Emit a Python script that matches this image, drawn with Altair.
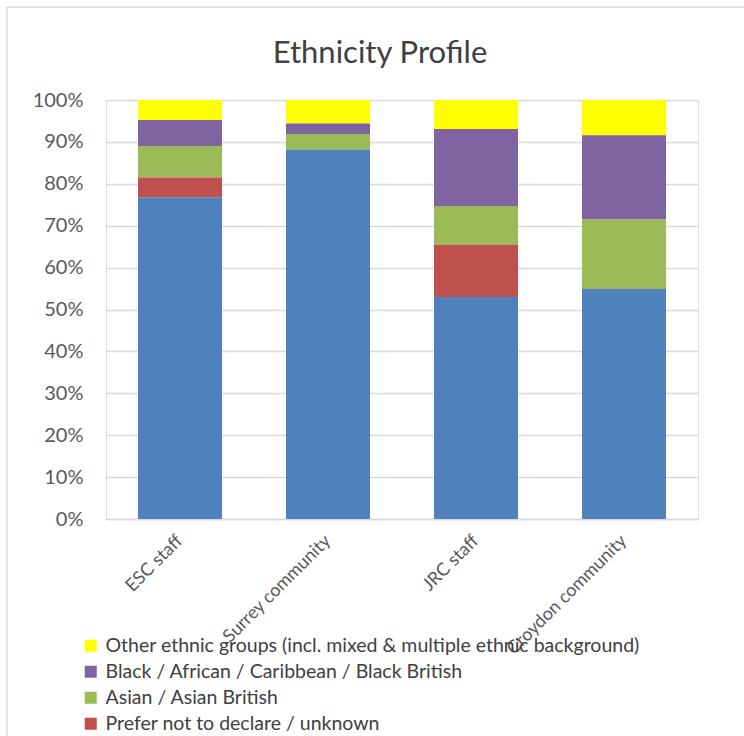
import altair as alt
import pandas as pd

categories = ["ESC staff", "Surrey community", "JRC staff", "Croydon community"]
groups = [
    "Other ethnic groups (incl. mixed & multiple ethnic background)",
    "Black / African / Caribbean / Black British",
    "Asian / Asian British",
    "Prefer not to declare / unknown",
    "White",
]
colors = ["#FFFF00", "#8064A2", "#9BBB59", "#C0504D", "#4F81BD"]
stack_rank = [4, 3, 2, 1, 0]

other = [4.8, 5.6, 6.9, 8.4]
black = [6.2, 2.5, 18.4, 20.1]
asian = [7.5, 3.7, 9.2, 16.6]
prefer = [4.7, 0.0, 12.5, 0.0]
white = [76.8, 88.2, 53.0, 54.9]

series = [other, black, asian, prefer, white]
rows = []
for g, vals, r in zip(groups, series, stack_rank):
    for c, v in zip(categories, vals):
        rows.append({"category": c, "group": g, "value": v, "rank": r})
df = pd.DataFrame(rows)

FONT = "Lato"

bars = alt.Chart(df).mark_bar().encode(
    x=alt.X(
        "category:N",
        sort=categories,
        title=None,
        scale=alt.Scale(paddingInner=0.432, paddingOuter=0.216),
        axis=alt.Axis(
            labelAngle=315,
            labelAlign="right",
            labelBaseline="middle",
            labelPadding=19,
            ticks=False,
            domain=True,
            domainColor="#D9D9D9",
            domainWidth=1.3,
            labelFont=FONT,
            labelFontSize=18,
            labelColor="#595959",
            labelOverlap=False,
        ),
    ),
    y=alt.Y(
        "value:Q",
        stack="normalize",
        title=None,
        scale=alt.Scale(domain=[0, 1], nice=False),
        axis=alt.Axis(
            format=".0%",
            values=[i / 10 for i in range(11)],
            ticks=False,
            domain=False,
            grid=True,
            gridColor="#D9D9D9",
            gridWidth=1.3,
            labelPadding=23,
            labelFont=FONT,
            labelFontSize=20,
            labelColor="#595959",
        ),
    ),
    color=alt.Color(
        "group:N",
        scale=alt.Scale(domain=groups, range=colors),
        legend=alt.Legend(
            title=None,
            values=groups[:4],
            orient="none",
            legendX=-25,
            legendY=536,
            symbolType="square",
            symbolSize=144,
            symbolStrokeWidth=0,
            labelFont=FONT,
            labelFontSize=19.5,
            labelColor="#404040",
            labelLimit=700,
            labelOffset=5,
            rowPadding=5,
        ),
    ),
    order=alt.Order("rank:Q", sort="ascending"),
)

frame_top = alt.Chart(pd.DataFrame({"a": [0]})).mark_rule(color="#D9D9D9", strokeWidth=1.5).encode(
    x=alt.value(-99), x2=alt.value(700), y=alt.value(-93)
)
frame_left = alt.Chart(pd.DataFrame({"a": [0]})).mark_rule(color="#D9D9D9", strokeWidth=1.5).encode(
    x=alt.value(-99), y=alt.value(-93), y2=alt.value(700)
)

chart = alt.layer(bars, frame_top, frame_left).properties(
    width=592,
    height=419,
    title=alt.TitleParams(
        "Ethnicity Profile",
        font=FONT,
        fontSize=31,
        fontWeight="normal",
        color="#404040",
        anchor="middle",
        baseline="alphabetic",
        dx=-22,
        offset=-88,
    ),
    autosize=alt.AutoSizeParams(type="none"),
    padding={"left": 106, "top": 100, "right": 46, "bottom": 217},
).configure_view(stroke=None).configure(background="white")

chart.save("out.html", embed_options={"renderer": "svg", "actions": False})
